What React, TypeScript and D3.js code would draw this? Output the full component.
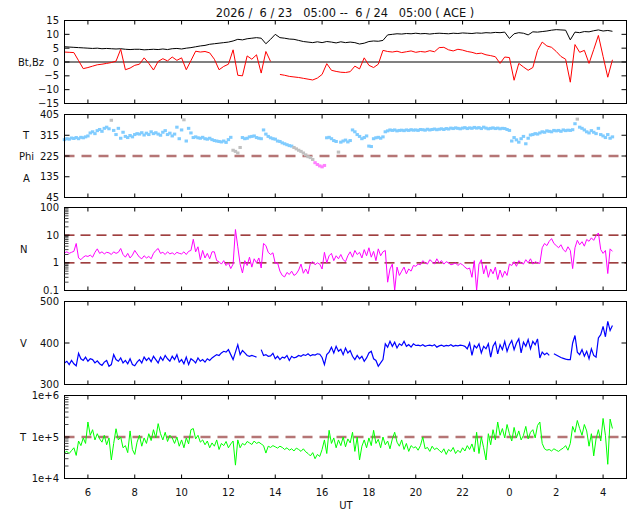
import * as d3 from "d3";

// ACE real-time solar wind, 24 h window
const TITLE = "2026 /  6 / 23   05:00 --  6 / 24   05:00 ( ACE )";
const START_HOUR = 5; // 05:00 UT on 6/23
const MAG_STEP = 0.2; // hours between magnetometer samples
const PLASMA_STEP = 0.1; // hours between plasma / angle samples

const hourTicks = [6, 8, 10, 12, 14, 16, 18, 20, 22, 24, 26, 28];

// |B| (nT)
const bt = [
  5.5, 5.4, 5.3, 5.2, 5.1, 5.0,
  4.9, 5.0, 4.8, 4.9, 4.8,
  4.7, 4.8, 4.6, 4.5, 4.6,
  4.6, 4.4, 4.5, 4.6, 4.5,
  4.7, 4.5, 4.8, 4.9, 4.7,
  5.0, 5.2, 5.5, 5.8, 6.0,
  6.4, 6.6, 6.8, 7.0, 7.2,
  7.6, 8.2, 8.0, 8.4, 8.6,
  8.8, 8.6, 6.6, 8.2, 10.0,
  8.8, 8.6, 8.3, 8.2, 7.8,
  7.4, 7.2, 7.0, 7.3, 7.0,
  7.4, 7.2, 6.9, 7.3, 7.0,
  7.2, 7.0, 6.5, 6.8, 7.4,
  7.6, 7.5, 7.8, 9.8, 10.0,
  10.2, 10.1, 10.3, 10.2, 10.4,
  10.2, 10.3, 10.1, 10.3, 10.4,
  10.3, 10.2, 10.4, 10.3, 10.5,
  10.4, 10.3, 10.5, 10.4, 10.6,
  10.5, 10.7, 10.6, 10.8, 8.5,
  10.2, 10.6, 10.4, 9.8, 10.9,
  10.8, 11.0, 11.2, 11.5, 11.7,
  11.6, 11.5, 8.0, 10.8, 10.6,
  11.0, 10.9, 11.3, 11.6, 11.2, 11.4, 11.1,
];

// Bz (nT), null = no data
const bz: (number | null)[] = [
  3.6, 3.5, 3.4, 0.5, -2.4, -2.0, -1.5, -1.0, -0.8, -0.5,
  -0.2, 0.3, 4.6, -2.8, -2.2, -1.2, -0.8, 1.5, -0.5, -2.9,
  0.2, 1.2, 0.4, 1.8, 0.6, 1.5, -2.8, 0.5, 3.9, 3.6,
  3.8, 3.3, 1.0, -2.8, -1.6, -0.8, 4.4, -4.8, -5.0, 2.2,
  1.0, 2.6, -4.0, 3.8, 0.2, null, -4.5, -4.8, -5.2, -5.4,
  -5.6, -5.9, -6.2, -6.5, -5.8, -4.5, -0.6, -3.0, -3.4, -3.7,
  -3.8, -3.5, -1.5, -2.5, 1.5, -1.2, -2.0, -0.8, 4.2, 3.8,
  3.6, 3.9, 3.4, 3.7, 4.0, 3.5, 3.8, 3.6, 4.1, 3.7,
  5.2, 5.3, 4.4, 4.0, 4.6, 4.3, 3.8, 3.5, 3.0, 3.2,
  2.6, 2.3, 1.9, -0.5, 1.8, 1.6, -6.6, -0.5, -1.8, -3.0,
  -2.0, 4.2, 7.2, 5.8, 5.3, 3.8, 2.0, 1.0, -7.3, 6.3,
  3.5, 4.2, -0.5, 4.5, 9.6, 2.0, -5.5, 0.8,
];

// Phi angle (deg)
const phi = [
  296, 300, 298, 303, 301, 305, 300, 306, 304, 308,
  312, 325, 330, 322, 335, 340, 332, 345, 350, 343,
  380, 336, 318, 345, 302, 328, 310, 305, 314, 308,
  318, 322, 320, 326, 316, 324, 318, 330, 322, 326,
  320, 315, 328, 335, 318, 324, 312, 320, 350, 300,
  338, 382, 290, 345, 325, 305, 308, 304, 302, 306,
  300, 298, 302, 296, 292, 290, 288, 286, 290, 284,
  296, 306, 250, 245, 238, 262, 305, 300, 302, 308,
  310, 312, 305, 302, 300, 338, 320, 310, 304, 300,
  298, 290, 288, 282, 278, 274, 270, 268, 262, 256,
  250, 245, 238, 230, 222, 218, 210, 196, 188, 182,
  178, 184, 304, 306, 300, 292, 288, 242, 285, 290,
  294, 286, 292, 338, 330, 318, 310, 300, 305, 312,
  268, 266, 300, 304, 306, 302, 308, 330, 334, 338,
  336, 338, 334, 336, 337, 335, 338, 336, 339, 337,
  338, 336, 340, 339, 337, 341, 338, 340, 342, 339,
  341, 343, 340, 344, 342, 346, 344, 347, 345, 343,
  346, 348, 344, 347, 345, 349, 346, 348, 344, 350,
  346, 343, 345, 347, 344, 346, 343, 345, 344, 340,
  336, 290, 305, 295, 285, 300, 310, 278, 302, 316,
  318, 322, 320, 325, 330, 328, 334, 332, 330, 336,
  334, 336, 332, 338, 335, 337, 336, 339, 365, 385,
  350, 345, 338, 330, 325, 335, 328, 322, 345, 318,
  312, 305, 318, 302, 308,
];

// proton density (cm^-3)
const density = [
  2.3, 2.5, 2.2, 2.4, 2.6, 5.0, 1.5, 1.3, 1.6, 1.8,
  1.7, 1.9, 1.6, 2.4, 3.2, 2.2, 2.5, 2.1, 2.4, 2.3,
  2.0, 2.5, 2.2, 2.4, 3.3, 2.0, 1.6, 2.2, 1.5, 1.9,
  2.8, 2.1, 1.6, 1.4, 1.8, 1.5, 1.7, 1.4, 2.2, 2.8,
  3.3, 2.2, 2.4, 2.0, 2.5, 2.1, 2.3, 2.0, 2.4, 2.2,
  2.1, 2.5, 2.0, 2.6, 2.8, 7.1, 2.5, 3.8, 1.3, 2.8,
  1.5, 2.2, 1.4, 2.5, 2.5, 1.2, 1.1, 0.9, 1.2, 0.8,
  1.0, 0.62, 0.9, 16, 3.8, 0.9, 0.43, 1.2, 0.8, 1.6,
  0.7, 1.4, 1.0, 1.5, 0.65, 5.0, 4.2, 2.4, 2.0, 2.3,
  0.95, 1.0, 0.5, 0.35, 0.31, 0.45, 0.38, 0.5, 0.35, 0.4,
  0.55, 0.9, 0.42, 0.6, 0.4, 0.95, 1.1, 0.85, 1.0, 0.9,
  0.6, 2.4, 1.0, 1.8, 2.2, 1.2, 1.8, 1.4, 2.0, 1.3,
  1.1, 1.8, 2.5, 1.6, 2.8, 2.0, 2.4, 1.5, 3.0, 1.8,
  3.5, 1.6, 2.6, 1.2, 3.2, 1.8, 2.5, 2.8, 0.2, 0.6,
  0.9, 0.1, 0.7, 0.35, 0.5, 0.7, 0.4, 0.6, 0.5, 0.8,
  0.75, 0.9, 0.85, 1.2, 1.0, 0.9, 1.3, 1.1, 0.9, 1.4,
  1.0, 1.2, 0.9, 1.1, 1.0, 0.85, 0.9, 1.0, 0.8, 0.95,
  0.85, 0.7, 0.6, 0.65, 0.3, 1.2, 0.1, 0.9, 1.3, 0.4,
  0.8, 0.3, 0.6, 0.4, 0.7, 0.25, 0.55, 0.3, 0.5, 0.35,
  0.9, 0.8, 1.1, 0.75, 1.2, 1.0, 0.9, 1.3, 1.0, 1.4,
  0.9, 1.1, 1.0, 0.95, 3.5, 5.0, 4.2, 6.0, 7.5, 5.0,
  4.2, 3.5, 4.5, 3.0, 2.5, 3.8, 2.8, 0.62, 3.5, 6.5,
  4.5, 5.8, 4.0, 7.0, 6.0, 8.0, 6.5, 9.5, 12, 3.0,
  2.2, 2.8, 0.41, 3.2, 2.6,
];

// bulk speed (km/s)
const speed: (number | null)[] = [
  352, 356, 348, 358, 350, 345, 375, 362, 358, 366,
  356, 362, 360, 352, 357, 350, 346, 354, 358, 344,
  348, 372, 360, 356, 364, 352, 358, 350, 362, 348,
  345, 354, 360, 352, 366, 358, 364, 355, 368, 360,
  352, 366, 358, 370, 362, 356, 368, 360, 372, 354,
  360, 350, 366, 348, 362, 358, 352, 364, 356, 360,
  354, 362, 358, 364, 368, 372, 370, 376, 380, 378,
  384, 372, 360, 378, 396, 372, 382, 376, 370, 368,
  370, 368, 366, null, 384, 370, 372, 368, 369, 375,
  362, 368, 360, 366, 364, 370, 358, 368, 364, 366,
  370, 368, 372, 370, 374, 369, 372, 371, 374, 373,
  365, 348, 372, 378, 390, 376, 392, 380, 385, 372,
  388, 376, 382, 368, 360, 370, 362, 368, 356, 364,
  376, 380, 362, 358, 344, 352, 360, 398, 390, 404,
  392, 402, 388, 398, 394, 404, 392, 396, 390, 398,
  394, 395, 393, 396, 392, 394, 395, 393, 396, 390,
  393, 395, 392, 394, 393, 396, 392, 394, 393, 395,
  394, 392, 386, 400, 370, 394, 388, 398, 376, 392,
  386, 398, 366, 392, 402, 374, 396, 384, 404, 380,
  396, 406, 384, 400, 410, 376, 402, 392, 408, 386,
  404, 396, 410, 364, 378, 372, 376, 370, null, 374,
  371, 368, 365, 363, 361, 360, 360, 400, 418, 378,
  372, 384, 368, 380, 362, 386, 370, 366, 412, 420,
  440, 415, 452, 430, 442,
];

// proton temperature (thousands of K)
const tempK = [
  42, 45, 40, 47, 55, 36, 80, 62, 95, 70,
  230, 110, 150, 85, 120, 90, 75, 110, 65, 95,
  28, 70, 158, 85, 100, 55, 62, 42, 140, 50,
  38, 75, 110, 60, 95, 70, 120, 82, 150, 95,
  210, 120, 85, 130, 78, 110, 95, 70, 100, 60,
  85, 55, 95, 68, 150, 160, 90, 110, 75, 85,
  65, 80, 55, 72, 60, 85, 50, 70, 62, 78,
  55, 68, 80, 21, 85, 55, 70, 64, 78, 72,
  66, 80, 70, 75, 68, 62, 41, 60, 56, 62,
  58, 54, 60, 56, 50, 55, 48, 52, 46, 54,
  50, 45, 52, 44, 40, 35, 42, 30, 38, 34,
  50, 85, 40, 145, 70, 95, 55, 85, 62, 100,
  58, 90, 72, 130, 45, 100, 28, 60, 85, 55,
  95, 62, 145, 70, 88, 55, 100, 65, 80, 52,
  90, 130, 75, 60, 85, 50, 70, 45, 62, 55,
  58, 48, 62, 100, 52, 56, 45, 60, 50, 54,
  48, 42, 52, 38, 50, 45, 56, 40, 48, 42,
  55, 46, 62, 50, 68, 44, 130, 40, 100, 55,
  28, 120, 65, 150, 85, 230, 110, 160, 95, 200,
  120, 80, 170, 95, 140, 85, 110, 180, 90, 130,
  150, 95, 190, 230, 70, 52, 48, 50, 46, 52,
  48, 45, 50, 54, 62, 48, 70, 180, 130, 250,
  160, 110, 200, 140, 60, 120, 35, 90, 150, 80,
  280, 110, 22, 270, 160,
];

const X0 = 64.5;
const X1 = 626.5;
const PANEL_H = 83;
const tops = [20.5, 114.5, 207.5, 301.5, 395.5];
const FONT = "DejaVu Sans, sans-serif";
const FS = 10;

const x = d3.scaleLinear().domain([5, 29]).range([X0, X1]);
const magT = (i: number) => START_HOUR + i * MAG_STEP;
const plasT = (i: number) => START_HOUR + i * PLASMA_STEP;

const phiColor = d3
  .scaleThreshold<number, string>()
  .domain([200, 265, 375])
  .range(["#ff80ff", "#c0c0c0", "#80ccff", "#c0c0c0"]);

function logMinors(decades: number[]) {
  const out: number[] = [];
  decades.forEach((d) => {
    for (let k = 2; k <= 9; k++) out.push(d * k);
  });
  return out;
}

function Panel(props: {
  top: number;
  y: (v: number) => number;
  ticks: number[];
  fmt: (v: number) => string;
  rightTicks: number[];
  minors?: number[];
  children?: any;
}) {
  const { top, y, ticks, fmt, rightTicks, minors, children } = props;
  const bottom = top + PANEL_H;
  return (
    <g>
      {children}
      <rect x={X0} y={top} width={X1 - X0} height={PANEL_H} fill="none" stroke="#000" strokeWidth={1} />
      {hourTicks.map((h) => (
        <g key={h} stroke="#000">
          <line x1={x(h)} x2={x(h)} y1={top} y2={top + 4} />
          <line x1={x(h)} x2={x(h)} y1={bottom} y2={bottom - 4} />
        </g>
      ))}
      {(minors ?? []).map((v) => (
        <line key={"m" + v} x1={X0} x2={X0 + 4} y1={y(v)} y2={y(v)} stroke="#444" />
      ))}
      {ticks.map((v) => (
        <g key={v}>
          <line x1={X0} x2={X0 + 5} y1={y(v)} y2={y(v)} stroke="#000" />
          <text x={59} y={y(v)} dy="0.36em" textAnchor="end" fontSize={FS} fill="#111">
            {fmt(v)}
          </text>
        </g>
      ))}
      {rightTicks.map((v) => (
        <line key={"r" + v} x1={X1 - 5} x2={X1} y1={y(v)} y2={y(v)} stroke="#000" />
      ))}
    </g>
  );
}

export default function App() {
  // panel 1: Bt, Bz
  const yB = d3.scaleLinear().domain([-15, 15]).range([tops[0] + PANEL_H, tops[0]]);
  const btLine = d3
    .line<number>()
    .x((_, i) => x(magT(i)))
    .y((v) => yB(v))(bt);
  const bzLine = d3
    .line<number | null>()
    .defined((v) => v != null)
    .x((_, i) => x(magT(i)))
    .y((v) => yB(v as number))(bz);

  // panel 2: Phi
  const yP = d3.scaleLinear().domain([45, 405]).range([tops[1] + PANEL_H, tops[1]]);

  // panel 3: N
  const yN = d3.scaleLog().domain([0.1, 100]).range([tops[2] + PANEL_H, tops[2]]);
  const nLine = d3
    .line<number>()
    .x((_, i) => x(plasT(i)))
    .y((v) => yN(v))(density);

  // panel 4: V
  const yV = d3.scaleLinear().domain([300, 500]).range([tops[3] + PANEL_H, tops[3]]);
  const vLine = d3
    .line<number | null>()
    .defined((v) => v != null)
    .x((_, i) => x(plasT(i)))
    .y((v) => yV(v as number))(speed);

  // panel 5: T
  const yT = d3.scaleLog().domain([10, 1000]).range([tops[4] + PANEL_H, tops[4]]);
  const tLine = d3
    .line<number>()
    .x((_, i) => x(plasT(i)))
    .y((v) => yT(v))(tempK);

  const minus = (v: number) => (v < 0 ? "\u2212" + Math.abs(v) : String(v));
  const bottom = tops[4] + PANEL_H;

  return (
    <svg
      width={640}
      height={512}
      style={{ position: "absolute", left: 0, top: 0, background: "#fff" }}
      fontFamily={FONT}
    >
      <rect width={640} height={512} fill="#fff" />
      <text x={345} y={17} textAnchor="middle" fontSize={11.4} style={{ whiteSpace: "pre" }} fill="#111">
        {TITLE}
      </text>

      <Panel top={tops[0]} y={yB} ticks={[15, 10, 5, 0, -5, -10, -15]} fmt={minus} rightTicks={[10, 5, 0, -5, -10]}>
        <line x1={X0} x2={X1} y1={yB(0)} y2={yB(0)} stroke="#808080" strokeWidth={2} />
        <path d={btLine ?? ""} fill="none" stroke="#000" strokeWidth={1} />
        <path d={bzLine ?? ""} fill="none" stroke="#ff0000" strokeWidth={1} />
      </Panel>
      <text x={18} y={yB(0)} dy="0.36em" fontSize={FS} fill="#111">Bt,Bz</text>

      <Panel top={tops[1]} y={yP} ticks={[405, 315, 225, 135, 45]} fmt={String} rightTicks={[315, 225, 135]}>
        <line x1={X0} x2={X1} y1={yP(225)} y2={yP(225)} stroke="#b57575" strokeWidth={2.5} strokeDasharray="10 7" />
        {phi.map((v, i) => (
          <rect key={i} x={x(plasT(i)) - 1.7} y={yP(v) - 1.5} width={3.4} height={3} fill={phiColor(v)} />
        ))}
      </Panel>
      <text x={23} y={135} dy="0.36em" fontSize={FS} fill="#111">T</text>
      <text x={19} y={156.5} dy="0.36em" fontSize={FS} fill="#111">Phi</text>
      <text x={23} y={178.5} dy="0.36em" fontSize={FS} fill="#111">A</text>

      <Panel
        top={tops[2]}
        y={yN}
        ticks={[100, 10, 1, 0.1]}
        fmt={String}
        rightTicks={[10, 1]}
        minors={logMinors([0.1, 1, 10])}
      >
        {[1, 10].map((v) => (
          <line key={v} x1={X0} x2={X1} y1={yN(v)} y2={yN(v)} stroke="#800000" strokeWidth={1.2} strokeDasharray="10 6" />
        ))}
        <path d={nLine ?? ""} fill="none" stroke="#ff00ff" strokeWidth={1} />
      </Panel>
      <text x={20} y={249.5} dy="0.36em" fontSize={FS} fill="#111">N</text>

      <Panel top={tops[3]} y={yV} ticks={[500, 400, 300]} fmt={String} rightTicks={[400]}>
        <path d={vLine ?? ""} fill="none" stroke="#0000ff" strokeWidth={1.2} />
      </Panel>
      <text x={20} y={343.5} dy="0.36em" fontSize={FS} fill="#111">V</text>

      <Panel
        top={tops[4]}
        y={yT}
        ticks={[1000, 100, 10]}
        fmt={(v) => "1e+" + Math.round(Math.log10(v) + 3)}
        rightTicks={[100]}
        minors={logMinors([10, 100])}
      >
        <line x1={X0} x2={X1} y1={yT(100)} y2={yT(100)} stroke="#b57575" strokeWidth={2.5} strokeDasharray="10 7" />
        <path d={tLine ?? ""} fill="none" stroke="#00ff00" strokeWidth={1} />
      </Panel>
      <text x={20} y={437} dy="0.36em" fontSize={FS} fill="#111">T</text>

      {hourTicks.map((h) => (
        <text key={h} x={x(h)} y={bottom + 17} textAnchor="middle" fontSize={FS} fill="#111">
          {h % 24}
        </text>
      ))}
      <text x={346} y={509} textAnchor="middle" fontSize={FS} fill="#111">UT</text>
    </svg>
  );
}
